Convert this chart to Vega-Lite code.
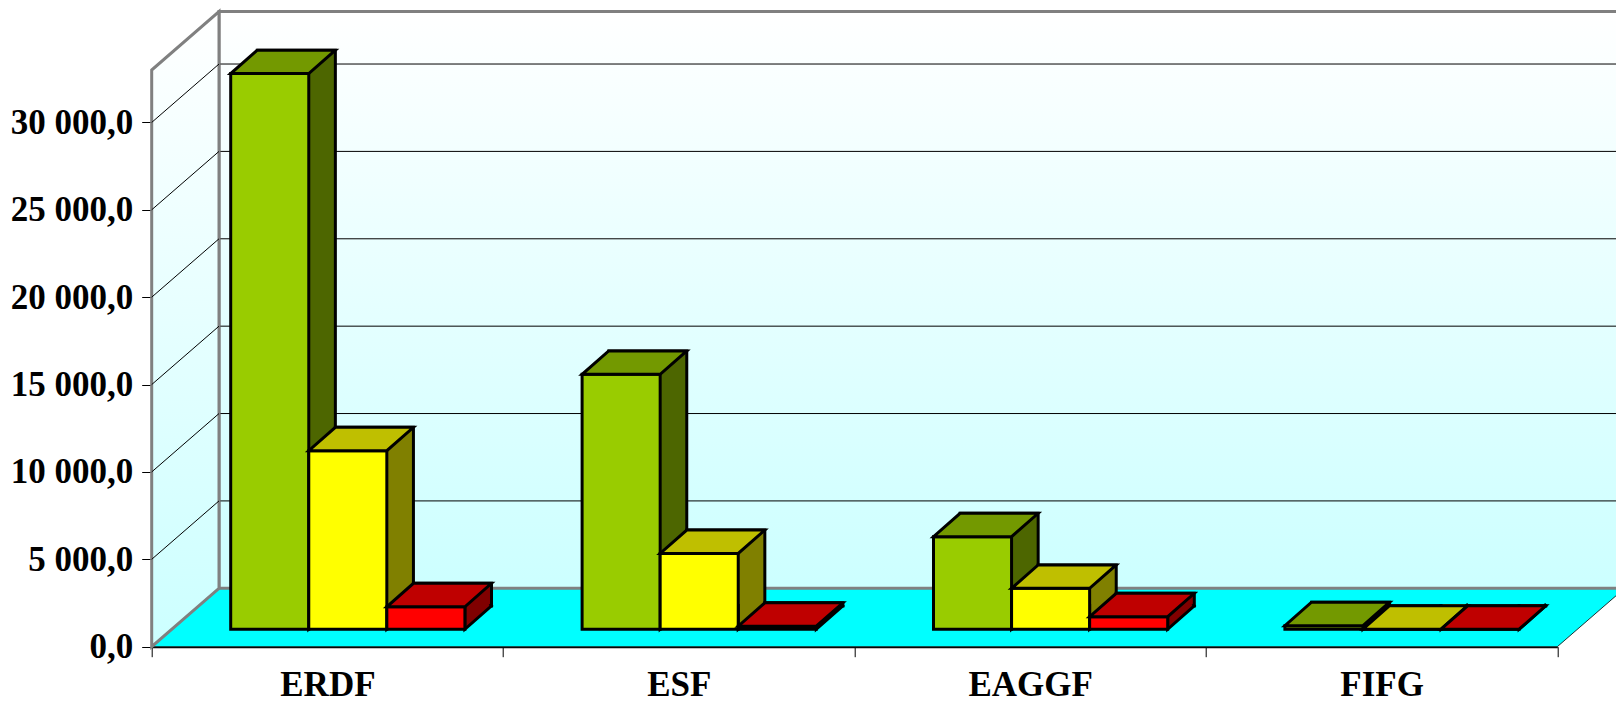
{
  "$schema": "https://vega.github.io/schema/vega-lite/v6.json",
  "width": 1405.6,
  "height": 576.7,
  "autosize": {"type": "none"},
  "padding": {"left": 151.7, "top": 70, "right": 58.7, "bottom": 57.3},
  "background": "white",
  "config": {
    "view": {"stroke": null},
    "locale": {"number": {"decimal": ",", "thousands": " ", "grouping": [3], "currency": ["", ""]}},
    "axisX": {"labelAngle": 0, "labelFont": "Liberation Serif", "labelFontWeight": "bold", "labelFontSize": 35, "labelColor": "black", "labelPadding": 10.5, "tickSize": 10, "tickColor": "black", "tickWidth": 1, "tickBand": "extent", "domainColor": "black", "domainWidth": 2, "grid": false, "zindex": 1},
    "axisY": {"labelFont": "Liberation Serif", "labelFontWeight": "bold", "labelFontSize": 35, "labelColor": "black", "labelPadding": 9, "labelOverlap": false, "tickSize": 10, "tickColor": "black", "tickWidth": 1, "domainColor": "black", "domainWidth": 1, "grid": false, "zindex": 1}
  },
  "data": {
    "values": [
      {"category": "ERDF", "series": "Allocated", "value": 31800},
      {"category": "ERDF", "series": "Committed", "value": 10220},
      {"category": "ERDF", "series": "Paid", "value": 1290},
      {"category": "ESF", "series": "Allocated", "value": 14590},
      {"category": "ESF", "series": "Committed", "value": 4340},
      {"category": "ESF", "series": "Paid", "value": 180},
      {"category": "EAGGF", "series": "Allocated", "value": 5300},
      {"category": "EAGGF", "series": "Committed", "value": 2345},
      {"category": "EAGGF", "series": "Paid", "value": 720},
      {"category": "FIFG", "series": "Allocated", "value": 210},
      {"category": "FIFG", "series": "Committed", "value": 10},
      {"category": "FIFG", "series": "Paid", "value": 5}
    ]
  },
  "datasets": {
    "gridlines": [{"v": 5000}, {"v": 10000}, {"v": 15000}, {"v": 20000}, {"v": 25000}, {"v": 30000}]
  },
  "resolve": {"scale": {"xOffset": "independent", "fill": "independent"}},
  "layer": [
    {
      "data": {"values": [{}]},
      "mark": {"type": "point", "shape": "M0,0 L1405.6,0 L1472.9,-58.4 L67.3,-58.4 Z", "size": 4, "filled": true, "fill": "#00ffff", "stroke": "#1a3333", "strokeWidth": 1, "opacity": 1},
      "encoding": {"x": {"value": 0}, "y": {"datum": 0, "title": null, "scale": {"domain": [0, 33000], "nice": false}, "axis": {"values": [0, 5000, 10000, 15000, 20000, 25000, 30000], "format": ",.1f"}}}
    },
    {
      "data": {"values": [{}]},
      "mark": {"type": "rect", "fill": {"gradient": "linear", "x1": 0, "y1": 0, "x2": 0, "y2": 1, "stops": [{"offset": 0, "color": "#ffffff"}, {"offset": 1, "color": "#ccffff"}]}, "stroke": "#808080", "strokeWidth": 3, "xOffset": 67.3, "x2Offset": 67.3, "yOffset": -58.4, "y2Offset": -58.4, "opacity": 1},
      "encoding": {"x": {"value": 0}, "x2": {"value": "width"}, "y": {"datum": 0, "title": null, "axis": {"values": [0, 5000, 10000, 15000, 20000, 25000, 30000], "format": ",.1f"}}, "y2": {"datum": 33000}}
    },
    {
      "data": {"name": "gridlines"},
      "mark": {"type": "rule", "color": "black", "strokeWidth": 1, "xOffset": 67.3, "x2Offset": 67.3, "yOffset": -58.4, "y2Offset": -58.4, "opacity": 1},
      "encoding": {"x": {"value": 0}, "x2": {"value": "width"}, "y": {"field": "v", "type": "quantitative", "title": null, "axis": {"values": [0, 5000, 10000, 15000, 20000, 25000, 30000], "format": ",.1f"}}, "y2": {"field": "v"}}
    },
    {
      "data": {"values": [{}]},
      "mark": {"type": "point", "shape": "M0,0 L0,-576.7 L67.3,-635.1 L67.3,-58.4 Z", "size": 4, "filled": true, "fill": {"gradient": "linear", "x1": 0, "y1": 0, "x2": 0, "y2": 1, "stops": [{"offset": 0, "color": "#ffffff"}, {"offset": 1, "color": "#ccffff"}]}, "stroke": "#808080", "strokeWidth": 3, "opacity": 1},
      "encoding": {"x": {"value": 0}, "y": {"datum": 0, "title": null, "axis": {"values": [0, 5000, 10000, 15000, 20000, 25000, 30000], "format": ",.1f"}}}
    },
    {
      "data": {"name": "gridlines"},
      "mark": {"type": "rule", "color": "black", "strokeWidth": 1, "y2Offset": -58.4, "opacity": 1},
      "encoding": {"x": {"value": 0}, "x2": {"value": 67.3}, "y": {"field": "v", "type": "quantitative", "title": null, "axis": {"values": [0, 5000, 10000, 15000, 20000, 25000, 30000], "format": ",.1f"}}, "y2": {"field": "v"}}
    },
    {
      "mark": {"type": "bar", "stroke": "black", "strokeWidth": 3, "yOffset": -40.8, "y2Offset": -40.8, "opacity": 1},
      "encoding": {
        "x": {"field": "category", "type": "nominal", "sort": null, "title": null, "scale": {"type": "band", "domain": ["ERDF", "ESF", "EAGGF", "FIFG"], "paddingInner": 0, "paddingOuter": 0}},
        "xOffset": {"field": "series", "type": "nominal", "scale": {"type": "band", "domain": ["Allocated", "Committed", "Paid"], "range": [105.6, 339.8], "paddingInner": 0, "paddingOuter": 0}},
        "y": {"field": "value", "type": "quantitative", "stack": null, "title": null, "axis": {"values": [0, 5000, 10000, 15000, 20000, 25000, 30000], "format": ",.1f"}},
        "y2": {"datum": 0},
        "fill": {"field": "series", "type": "nominal", "scale": {"domain": ["Allocated", "Committed", "Paid"], "range": ["#4d6600", "#808000", "#800000"]}, "legend": null}
      }
    },
    {
      "mark": {"type": "point", "shape": "M39.03,-25.4 L39.03,0 L65.63,-23.4 L64.03,-25.4", "size": 4, "filled": true, "stroke": "black", "strokeWidth": 3, "yOffset": -17.4, "opacity": 1},
      "encoding": {
        "x": {"field": "category", "type": "nominal", "sort": null, "title": null, "scale": {"type": "band", "domain": ["ERDF", "ESF", "EAGGF", "FIFG"], "paddingInner": 0, "paddingOuter": 0}},
        "xOffset": {"field": "series", "type": "nominal", "scale": {"type": "band", "domain": ["Allocated", "Committed", "Paid"], "range": [79, 313.2], "paddingInner": 0, "paddingOuter": 0}},
        "y": {"datum": 0, "title": null, "axis": {"values": [0, 5000, 10000, 15000, 20000, 25000, 30000], "format": ",.1f"}},
        "fill": {"field": "series", "type": "nominal", "scale": {"domain": ["Allocated", "Committed", "Paid"], "range": ["#4d6600", "#808000", "#800000"]}, "legend": null}
      }
    },
    {
      "mark": {"type": "bar", "stroke": "black", "strokeWidth": 3, "yOffset": -17.4, "y2Offset": -17.4, "opacity": 1},
      "encoding": {
        "x": {"field": "category", "type": "nominal", "sort": null, "title": null, "scale": {"type": "band", "domain": ["ERDF", "ESF", "EAGGF", "FIFG"], "paddingInner": 0, "paddingOuter": 0}},
        "xOffset": {"field": "series", "type": "nominal", "scale": {"type": "band", "domain": ["Allocated", "Committed", "Paid"], "range": [79, 313.2], "paddingInner": 0, "paddingOuter": 0}},
        "y": {"field": "value", "type": "quantitative", "stack": null, "title": null, "axis": {"values": [0, 5000, 10000, 15000, 20000, 25000, 30000], "format": ",.1f"}},
        "y2": {"datum": 0},
        "fill": {"field": "series", "type": "nominal", "scale": {"domain": ["Allocated", "Committed", "Paid"], "range": ["#99cc00", "#ffff00", "#ff0000"]}, "legend": null}
      }
    },
    {
      "mark": {"type": "point", "shape": "M-39.03,0 L39.03,0 L65.63,-23.4 L-12.43,-23.4 Z", "size": 4, "filled": true, "stroke": "black", "strokeWidth": 3, "yOffset": -17.4, "opacity": 1},
      "encoding": {
        "x": {"field": "category", "type": "nominal", "sort": null, "title": null, "scale": {"type": "band", "domain": ["ERDF", "ESF", "EAGGF", "FIFG"], "paddingInner": 0, "paddingOuter": 0}},
        "xOffset": {"field": "series", "type": "nominal", "scale": {"type": "band", "domain": ["Allocated", "Committed", "Paid"], "range": [79, 313.2], "paddingInner": 0, "paddingOuter": 0}},
        "y": {"field": "value", "type": "quantitative", "stack": null, "title": null, "axis": {"values": [0, 5000, 10000, 15000, 20000, 25000, 30000], "format": ",.1f"}},
        "fill": {"field": "series", "type": "nominal", "scale": {"domain": ["Allocated", "Committed", "Paid"], "range": ["#739900", "#bfbf00", "#bf0000"]}, "legend": null}
      }
    }
  ]
}
